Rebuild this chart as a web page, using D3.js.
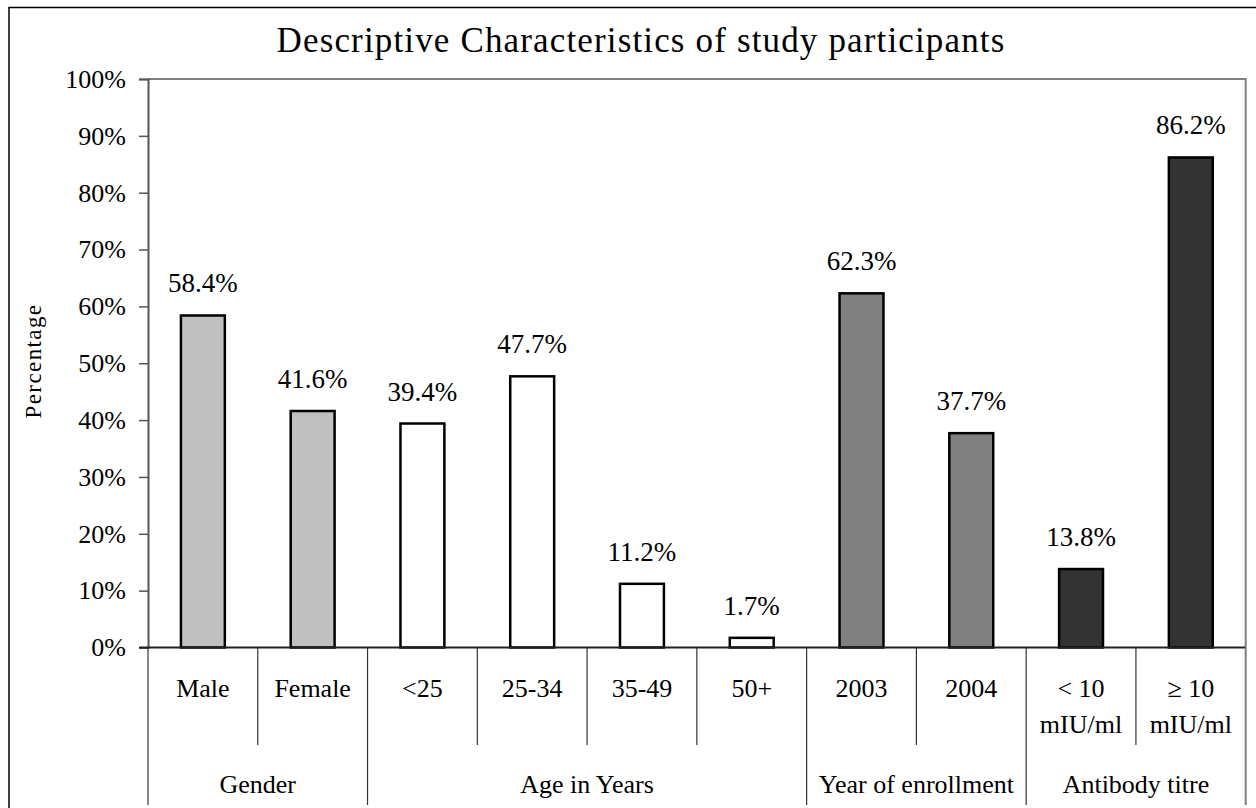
<!DOCTYPE html>
<html>
<head>
<meta charset="utf-8">
<script src="https://cdn.jsdelivr.net/npm/d3@7"></script>
<style>
  html, body { margin: 0; padding: 0; background: #fff; }
  svg { display: block; font-family: "Liberation Serif", "Times New Roman", serif; }
</style>
</head>
<body>
<svg id="chart" width="1256" height="808"></svg>
<script>
// ---- data ----
const categories = ["Male", "Female", "<25", "25-34", "35-49", "50+", "2003", "2004", "< 10|mIU/ml", "\u2265 10|mIU/ml"];
const values = [58.4, 41.6, 39.4, 47.7, 11.2, 1.7, 62.3, 37.7, 13.8, 86.2];
const groupNames = ["Gender", "Age in Years", "Year of enrollment", "Antibody titre"];
const groupStart = [0, 2, 6, 8];
const groupEnd = [1, 5, 7, 9];
const groupColors = ["#c0c0c0", "#ffffff", "#808080", "#333333"];
const yTicks = [0, 10, 20, 30, 40, 50, 60, 70, 80, 90, 100];
const titleText = "Descriptive Characteristics of study participants";
const yLabel = "Percentage";

// ---- layout ----
const svg = d3.select("#chart");
const pLeft = 148, pRight = 1245.7, pTop = 79, pBottom = 647.5;
const FONT = 26;

const x = d3.scaleBand().domain(d3.range(categories.length)).range([pLeft, pRight]).padding(0);
const xb = d3.scaleBand().domain(d3.range(categories.length)).range([pLeft, pRight])
  .paddingInner(0.6).paddingOuter(0.3);
const y = d3.scaleLinear().domain([0, 100]).range([pBottom, pTop]);

const groupOf = i => groupStart.findIndex((s, g) => i >= s && i <= groupEnd[g]);

// outer frame
svg.append("rect").attr("x", 9).attr("y", 7.5).attr("width", 1280).attr("height", 830)
  .attr("fill", "none").attr("stroke", "#000").attr("stroke-width", 1.5);

// title
svg.append("text").attr("x", 641).attr("y", 52).attr("text-anchor", "middle")
  .attr("font-size", 35).attr("letter-spacing", "1.15px").attr("fill", "#000").text(titleText);

// plot border (top and right)
svg.append("path")
  .attr("d", `M${pLeft},${pTop}H${pRight}V${pBottom}`)
  .attr("fill", "none").attr("stroke", "#808080").attr("stroke-width", 2);

// y axis
const yAxis = d3.axisLeft(y).tickValues(yTicks).tickFormat(d => d + "%").tickSize(9).tickPadding(13);
const ga = svg.append("g").attr("transform", `translate(${pLeft},0)`).call(yAxis);
ga.select(".domain").attr("stroke", "#555").attr("stroke-width", 2);
ga.selectAll(".tick line").attr("stroke", "#555").attr("stroke-width", 1.5);
ga.selectAll(".tick text").attr("font-size", FONT).attr("fill", "#000")
  .attr("font-family", "\"Liberation Serif\", \"Times New Roman\", serif");

// y label
svg.append("text").attr("transform", `translate(41,361) rotate(-90)`)
  .attr("text-anchor", "middle").attr("font-size", 23).attr("letter-spacing", "1.4px")
  .attr("fill", "#000").text(yLabel);

// bars
svg.append("g").selectAll("rect").data(values).join("rect")
  .attr("x", (d, i) => xb(i)).attr("width", xb.bandwidth())
  .attr("y", d => y(d)).attr("height", d => y(0) - y(d))
  .attr("fill", (d, i) => groupColors[groupOf(i)])
  .attr("stroke", "#000").attr("stroke-width", 2.5);

// value labels
svg.append("g").selectAll("text").data(values).join("text")
  .attr("x", (d, i) => xb(i) + xb.bandwidth() / 2).attr("y", d => y(d) - 23)
  .attr("text-anchor", "middle").attr("font-size", 27).attr("fill", "#000")
  .text(d => d.toFixed(1) + "%");

// baseline
svg.append("line").attr("x1", pLeft - 9).attr("x2", pRight).attr("y1", y(0)).attr("y2", y(0))
  .attr("stroke", "#222").attr("stroke-width", 2);

// category separators
const boundaries = d3.range(categories.length + 1);
svg.append("g").selectAll("line").data(boundaries).join("line")
  .attr("x1", i => i < categories.length ? x(i) : pRight)
  .attr("x2", i => i < categories.length ? x(i) : pRight)
  .attr("y1", y(0))
  .attr("y2", i => (i === 0 || i === categories.length || groupStart.includes(i)) ? 805 : 745)
  .attr("stroke", i => i === categories.length ? "#808080" : "#333")
  .attr("stroke-width", i => i === categories.length ? 2 : 1.2);

// category labels
const cl = svg.append("g").selectAll("text").data(categories).join("text")
  .attr("x", (d, i) => x(i) + x.bandwidth() / 2).attr("y", 697)
  .attr("text-anchor", "middle").attr("font-size", FONT).attr("fill", "#000");
cl.each(function(d) {
  const parts = d.split("|");
  const t = d3.select(this);
  parts.forEach((p, k) => {
    t.append("tspan").attr("x", t.attr("x")).attr("dy", k === 0 ? 0 : 36).text(p);
  });
});

// group labels
svg.append("g").selectAll("text").data(groupNames).join("text")
  .attr("x", (d, g) => (x(groupStart[g]) + x(groupEnd[g]) + x.bandwidth()) / 2)
  .attr("y", 793).attr("text-anchor", "middle").attr("font-size", FONT).attr("fill", "#000")
  .text(d => d);
</script>
</body>
</html>
